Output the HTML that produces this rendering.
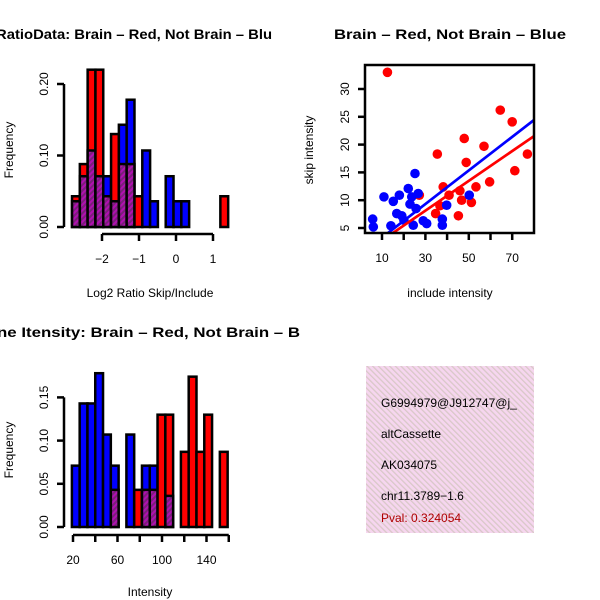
<!DOCTYPE html>
<html><head><meta charset="utf-8"><style>
html,body{margin:0;padding:0;background:#fff}
svg{display:block;font-family:"Liberation Sans",sans-serif}
</style></head><body>
<svg id="c" width="600" height="600" xmlns="http://www.w3.org/2000/svg">
<defs>
<pattern id="hatchP" width="4" height="4" patternUnits="userSpaceOnUse" patternTransform="rotate(45)">
<rect width="4" height="4" fill="#b010b0"/><rect width="2" height="4" fill="#7a207a"/></pattern>
<pattern id="hatchBox" width="4" height="4" patternUnits="userSpaceOnUse" patternTransform="rotate(-45)">
<rect width="4" height="4" fill="#f6d6ef"/><rect width="1.3" height="4" fill="#d9c8c8"/></pattern>
<clipPath id="clipL"><rect x="0" y="0" width="300" height="600"/></clipPath>
<clipPath id="clipSc"><rect x="365" y="65" width="169" height="168"/></clipPath>
<clipPath id="clipBox"><rect x="366" y="366" width="168" height="167"/></clipPath>
</defs>
<g clip-path="url(#clipL)">
<text x="-4" y="39" textLength="276" lengthAdjust="spacingAndGlyphs" font-size="14" font-weight="bold">RatioData: Brain – Red, Not Brain – Blu</text>
<text x="-3" y="337" textLength="303" lengthAdjust="spacingAndGlyphs" font-size="14" font-weight="bold">ne Itensity: Brain – Red, Not Brain – B</text>
</g>
<text x="334" y="39" textLength="232" lengthAdjust="spacingAndGlyphs" font-size="14" font-weight="bold">Brain – Red, Not Brain – Blue</text>
<text x="150" y="297" text-anchor="middle" font-size="12">Log2 Ratio Skip/Include</text>
<text transform="translate(13,150) rotate(-90)" text-anchor="middle" font-size="12">Frequency</text>
<text x="150" y="596" text-anchor="middle" font-size="12">Intensity</text>
<text transform="translate(13,450) rotate(-90)" text-anchor="middle" font-size="12">Frequency</text>
<text x="450" y="297" text-anchor="middle" font-size="12">include intensity</text>
<text transform="translate(313,150) rotate(-90)" text-anchor="middle" font-size="12">skip intensity</text>
<g id="p1"></g>
<g id="p3"></g>
<g id="p2"></g>
<g>
<rect x="366" y="366" width="168" height="167" fill="url(#hatchBox)"/>
<g clip-path="url(#clipBox)" font-size="12">
<text x="381" y="407">G6994979@J912747@j_</text>
<text x="381" y="438">altCassette</text>
<text x="381" y="469">AK034075</text>
<text x="381" y="500">chr11.3789−1.6</text>
<text x="381" y="522" fill="#b00000">Pval: 0.324054</text>
</g></g>
</svg>
<script>
// Ratio histogram data
const ratioBinStart = -2.81;
const ratioBinWidth = 0.211;
const ratioRed  = [0.043,0.088,0.22,0.22,0.043,0.13,0.088,0.088,0.043,0,0,0,0,0,0,0,0,0,0,0.043];
const ratioBlue = [0.036,0.071,0.107,0.071,0.071,0.036,0.143,0.178,0,0.107,0.036,0,0.071,0.036,0.036,0,0,0,0,0];
const ratioXTicks = [-2,-1,0,1];
const ratioYTicks = [0,0.1,0.2];
// Intensity histogram data
const intBinStart = 19;
const intBinWidth = 7.0;
const intRed  = [0,0,0,0,0,0.043,0,0,0.043,0.043,0.043,0.13,0.13,0,0.087,0.174,0.087,0.13,0,0.087];
const intBlue = [0.071,0.143,0.143,0.178,0.107,0.071,0,0.107,0,0.071,0.071,0,0.036,0,0,0,0,0,0,0];
const intXTicks = [20,40,60,80,100,120,140,160];
const intXLabels = ["20","","60","","100","","140",""];
const intYTicks = [0,0.05,0.1,0.15];
// Scatter data
const redX = [12.5,35.5,47.9,57,64.5,70,77,71.2,59.6,53.3,48.8,38.2,40.9,45.9,46.7,51.2,45.2,34.7,36.7,27.2];
const redY = [33,18.3,21.1,19.7,26.2,24.1,18.3,15.3,13.3,12.4,16.8,12.4,10.9,11.7,10,9.6,7.2,7.6,9,10.9];
const blueX = [5.7,6,10.9,15.2,14.1,18,16.8,19.1,20.1,22.1,25.2,23.7,26.7,22.9,25.7,24.4,29,30.6,37.8,37.8,39.8,50.2];
const blueY = [6.6,5.2,10.6,9.8,5.4,10.9,7.6,7.2,6.4,12.1,14.8,10.6,11.2,9.3,8.5,5.5,6.3,5.8,6.6,5.5,9.1,10.9];
const redFit = [0.08,0.268];   // intercept, slope
const blueFit = [0.25,0.302];
const scXTicks = [10,20,30,40,50,60,70];
const scXLabels = ["10","","30","","50","","70"];
const scYTicks = [5,10,15,20,25,30];

const NS="http://www.w3.org/2000/svg";
function mk(tag,attrs,parent){const e=document.createElementNS(NS,tag);for(const k in attrs)e.setAttribute(k,attrs[k]);parent.appendChild(e);return e;}

function hist(g,start,w,red,blue,sx,sy,nameP){
  for(let i=0;i<red.length;i++){
    const x0=sx(start+i*w), x1=sx(start+(i+1)*w);
    const r=red[i], b=blue[i];
    const hi=Math.max(r,b), lo=Math.min(r,b);
    if(hi>0){
      const e=mk('rect',{x:x0,y:sy(hi),width:x1-x0,height:sy(0)-sy(hi),fill:r>=b?'#ff0000':'#0000ff',stroke:'#000','stroke-width':2.5},g);
      
      
    }
    if(lo>0){
      const e=mk('rect',{x:x0,y:sy(lo),width:x1-x0,height:sy(0)-sy(lo),fill:'url(#hatchP)',stroke:'#000','stroke-width':2.5},g);
      
      
    }
  }
}
function yAxis(g,x,ticks,labels,sy,name){
  const e=mk('line',{x1:x,x2:x,y1:sy(ticks[0]),y2:sy(ticks[ticks.length-1]),stroke:'#000','stroke-width':2.5},g);
  
  
  ticks.forEach((t,i)=>{
    mk('line',{x1:x-7,x2:x,y1:sy(t),y2:sy(t),stroke:'#000','stroke-width':2.5},g);
    const tx=mk('text',{transform:`translate(${x-16},${sy(t)}) rotate(-90)`,'text-anchor':'middle','font-size':12},g);
    tx.textContent=labels[i];
    
    
  });
}
function xAxis(g,y,ticks,labels,sx,name){
  const e=mk('line',{x1:sx(ticks[0]),x2:sx(ticks[ticks.length-1]),y1:y,y2:y,stroke:'#000','stroke-width':2.5},g);
  
  
  ticks.forEach((t,i)=>{
    mk('line',{x1:sx(t),x2:sx(t),y1:y,y2:y+7,stroke:'#000','stroke-width':2.5},g);
    if(labels[i]){
      const tx=mk('text',{x:sx(t),y:y+29,'text-anchor':'middle','font-size':12},g);
      tx.textContent=labels[i];
      
      
    }
  });
}
// Plot 1
{
  const g=document.getElementById('p1');
  const sx=v=>176+v*37, sy=v=>227-v*715;
  hist(g,ratioBinStart,ratioBinWidth,ratioRed,ratioBlue,sx,sy,'ratio');
  yAxis(g,64,ratioYTicks,["0.00","0.10","0.20"],sy,'ratio-y-axis');
  xAxis(g,234,ratioXTicks,["−2","−1","0","1"],sx,'ratio-x-axis');
}
// Plot 3
{
  const g=document.getElementById('p3');
  const sx=v=>73+(v-20)*1.1125, sy=v=>527-v*864;
  hist(g,intBinStart,intBinWidth,intRed,intBlue,sx,sy,'intensity');
  yAxis(g,64,intYTicks,["0.00","0.05","0.10","0.15"],sy,'intensity-y-axis');
  xAxis(g,535,intXTicks,intXLabels,sx,'intensity-x-axis');
}
// Plot 2
{
  const g=document.getElementById('p2');
  const sx=v=>382+(v-10)*2.17, sy=v=>228-(v-5)*5.56;
  const pts=mk('g',{'clip-path':'url(#clipSc)'},g);
  redX.forEach((x,i)=>{const c=mk('circle',{cx:sx(x),cy:sy(redY[i]),r:4.8,fill:'#ff0000'},pts);
    
    });
  blueX.forEach((x,i)=>{const c=mk('circle',{cx:sx(x),cy:sy(blueY[i]),r:4.8,fill:'#0000ff'},pts);
    
    });
  [[blueFit,'#0000ff','blue-fit-line'],[redFit,'#ff0000','red-fit-line']].forEach(([f,col,nm])=>{
    const l=mk('line',{x1:sx(0),y1:sy(f[0]),x2:sx(90),y2:sy(f[0]+f[1]*90),stroke:col,'stroke-width':2.7},pts);
    
    
  });
  const b=mk('rect',{x:365,y:65,width:169,height:168,fill:'none',stroke:'#000','stroke-width':2.5},g);
  
  
  scXTicks.forEach((t,i)=>{
    mk('line',{x1:sx(t),x2:sx(t),y1:233,y2:240,stroke:'#000','stroke-width':2.5},g);
    const tx=mk('text',{x:sx(t),y:262,'text-anchor':'middle','font-size':12},g);
    tx.textContent=scXLabels[i];
    
    
  });
  scYTicks.forEach(t=>{
    mk('line',{x1:358,x2:365,y1:sy(t),y2:sy(t),stroke:'#000','stroke-width':2.5},g);
    const tx=mk('text',{transform:`translate(349,${sy(t)}) rotate(-90)`,'text-anchor':'middle','font-size':12},g);
    tx.textContent=String(t);
    
    
  });
}
</script>
</body></html>
